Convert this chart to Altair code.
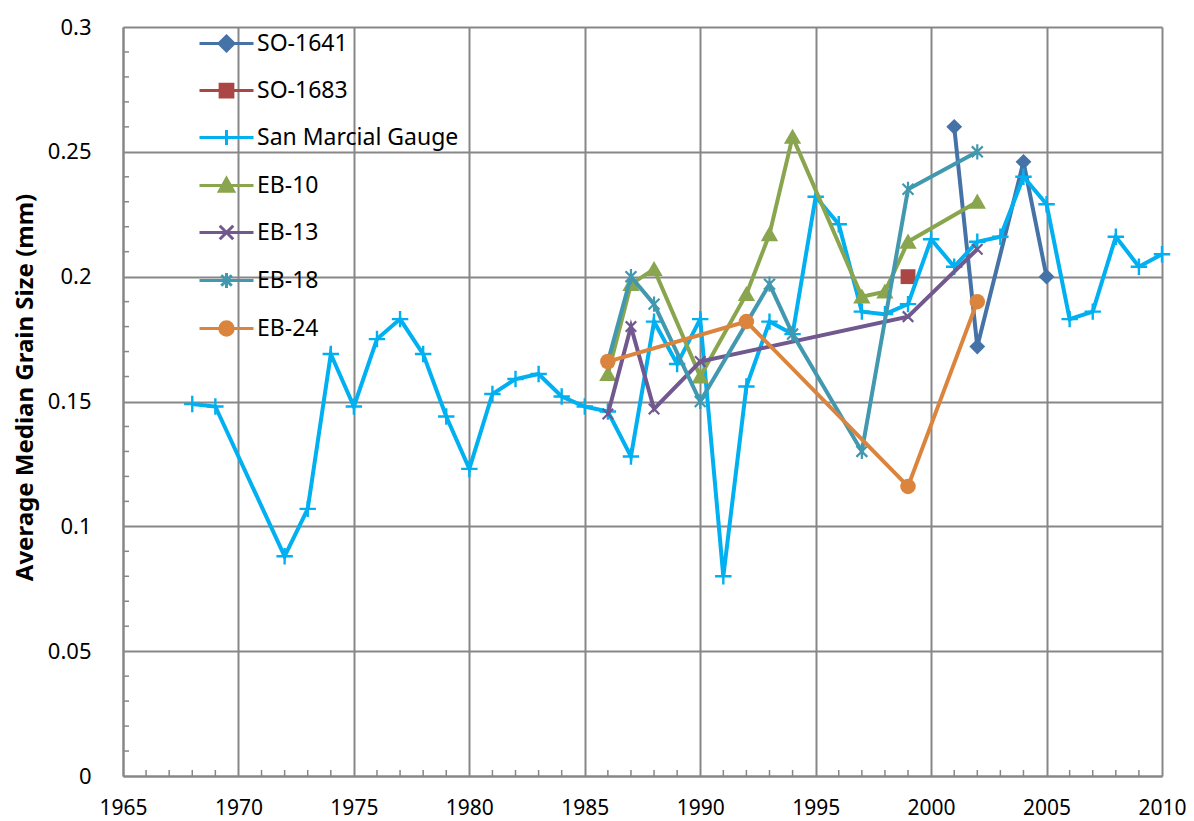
import altair as alt
import pandas as pd

# ---------------- data ----------------
series_names = ["SO-1641", "SO-1683", "San Marcial Gauge", "EB-10", "EB-13", "EB-18", "EB-24"]
series_colors = ["#4572A7", "#AA4643", "#00B0F0", "#89A54E", "#71588F", "#4198AF", "#DB843D"]

so1641_years = [2001, 2002, 2004, 2005]
so1641_vals = [0.260, 0.172, 0.246, 0.200]

so1683_years = [1999]
so1683_vals = [0.200]

san_years = [1968, 1969, 1972, 1973, 1974, 1975, 1976, 1977, 1978, 1979, 1980,
             1981, 1982, 1983, 1984, 1985, 1986, 1987, 1988, 1989, 1990, 1991,
             1992, 1993, 1994, 1995, 1996, 1997, 1998, 1999, 2000, 2001, 2002,
             2003, 2004, 2005, 2006, 2007, 2008, 2009, 2010]
san_vals = [0.149, 0.148, 0.088, 0.107, 0.169, 0.148, 0.175, 0.183, 0.169, 0.144, 0.123,
            0.153, 0.159, 0.161, 0.152, 0.148, 0.146, 0.128, 0.182, 0.165, 0.183, 0.080,
            0.156, 0.182, 0.177, 0.232, 0.221, 0.186, 0.185, 0.189, 0.215, 0.204, 0.214,
            0.216, 0.240, 0.229, 0.183, 0.186, 0.216, 0.204, 0.209]

eb10_years = [1986, 1987, 1988, 1990, 1992, 1993, 1994, 1997, 1998, 1999, 2002]
eb10_vals = [0.161, 0.197, 0.203, 0.160, 0.193, 0.217, 0.256, 0.192, 0.194, 0.214, 0.230]

eb13_years = [1986, 1987, 1988, 1990, 1999, 2002]
eb13_vals = [0.145, 0.180, 0.147, 0.166, 0.184, 0.211]

eb18_years = [1986, 1987, 1988, 1990, 1993, 1994, 1997, 1999, 2002]
eb18_vals = [0.166, 0.200, 0.189, 0.150, 0.197, 0.177, 0.130, 0.235, 0.250]

eb24_years = [1986, 1992, 1999, 2002]
eb24_vals = [0.166, 0.182, 0.116, 0.190]

x_major = [1965, 1970, 1975, 1980, 1985, 1990, 1995, 2000, 2005, 2010]
x_minor = [y for y in range(1966, 2010) if y % 5 != 0]
y_major = [0, 0.05, 0.1, 0.15, 0.2, 0.25, 0.3]
y_minor = [round(i * 0.01, 2) for i in range(1, 30) if i % 5 != 0]

# ---------------- styles ----------------
GRAY = "#878787"
FONT = "Noto Sans"

series_data = [
    (so1641_years, so1641_vals),
    (so1683_years, so1683_vals),
    (san_years, san_vals),
    (eb10_years, eb10_vals),
    (eb13_years, eb13_vals),
    (eb18_years, eb18_vals),
    (eb24_years, eb24_vals),
]

rows = []
for name, (yrs, vals) in zip(series_names, series_data):
    for yr, v in zip(yrs, vals):
        rows.append({"series": name, "year": yr, "size": v})
df = pd.DataFrame(rows)

plus_path = "M-1,0L1,0M0,-1L0,1"
x_path = "M-1,-1L1,1M-1,1L1,-1"
star_path = "M-0.72,-0.72L0.72,0.72M-0.72,0.72L0.72,-0.72M0,-1L0,1"
tri_path = "M0,-0.95L1,0.8L-1,0.8Z"

# (shape, size, filled, strokeWidth)
marker_styles = [
    ("diamond", 250, True, 0),
    ("square", 220, True, 0),
    (plus_path, 270, False, 2.4),
    (tri_path, 300, True, 0),
    (x_path, 110, False, 2.2),
    (star_path, 230, False, 2.2),
    ("circle", 240, True, 0),
]

line_seg = "M-3.6,0L3.6,0"
legend_paths = [
    line_seg + "M0,-1L1,0L0,1L-1,0Z",
    line_seg + "M-0.85,-0.85L0.85,-0.85L0.85,0.85L-0.85,0.85Z",
    line_seg + "M0,-1L0,1",
    line_seg + "M0,-0.95L0.95,0.75L-0.95,0.75Z",
    line_seg + "M-0.9,-0.9L0.9,0.9M-0.9,0.9L0.9,-0.9",
    line_seg + "M-0.7,-0.7L0.7,0.7M-0.7,0.7L0.7,-0.7M0,-1L0,1",
    line_seg + "M0.9,0A0.9,0.9,0,1,1,-0.9,0A0.9,0.9,0,1,1,0.9,0Z",
]

x_axis = alt.Axis(values=x_major, format="d", title=None, grid=True, ticks=False,
                  labelPadding=21, labelFontSize=21, labelFlush=False, labelOverlap=False)
y_axis = alt.Axis(values=y_major, format=".2~f", title="Average Median Grain Size (mm)",
                  grid=True, ticks=False, labelPadding=32, labelFlush=False,
                  labelOverlap=False, titleAngle=270, titleX=-98, titleY=360,
                  titleAlign="center", titleBaseline="middle")

x_enc = alt.X("year:Q", scale=alt.Scale(domain=[1965, 2010], nice=False, zero=False), axis=x_axis)
y_enc = alt.Y("size:Q", scale=alt.Scale(domain=[0, 0.3], nice=False, zero=False), axis=y_axis)

base = alt.Chart(df)
layers = []

# minor ticks (inside the plot area)
xt = alt.Chart(pd.DataFrame({"year": x_minor})).mark_rule(color=GRAY, strokeWidth=1.5).encode(
    x=x_enc, y=alt.value(749), y2=alt.value(743))
yt = alt.Chart(pd.DataFrame({"size": y_minor})).mark_rule(color=GRAY, strokeWidth=1.5).encode(
    y=y_enc, x=alt.value(0), x2=alt.value(6))
layers += [xt, yt]

for name, color, (shape, size, filled, sw) in zip(series_names, series_colors, marker_styles):
    sub = base.transform_filter(alt.datum.series == name)
    line = sub.mark_line(color=color, strokeWidth=4).encode(x=x_enc, y=y_enc, order="year:Q")
    if filled:
        pts = sub.mark_point(shape=shape, size=size, filled=True, color=color, opacity=1,
                             strokeWidth=0).encode(x=x_enc, y=y_enc)
    else:
        pts = sub.mark_point(shape=shape, size=size, filled=False, color=color, opacity=1,
                             strokeWidth=sw).encode(x=x_enc, y=y_enc)
    layers += [line, pts]

# legend layer (no marks drawn, only the legend)
legend = alt.Legend(title=None, orient="none", legendX=92, legendY=5, direction="vertical",
                    padding=0, symbolSize=225, symbolStrokeWidth=3, labelOffset=19,
                    rowPadding=21, labelFont=FONT, labelFontSize=23, labelColor="#000000",
                    labelLimit=400)
leg_scale = alt.Scale(domain=series_names, range=series_colors)
leg = base.transform_filter("false").mark_point(filled=True, opacity=1).encode(
    x=x_enc, y=y_enc,
    fill=alt.Fill("series:N", scale=leg_scale, legend=legend, sort=series_names),
    stroke=alt.Stroke("series:N", scale=leg_scale, legend=legend, sort=series_names),
    shape=alt.Shape("series:N", scale=alt.Scale(domain=series_names, range=legend_paths),
                    legend=legend, sort=series_names),
)
layers.append(leg)

chart = alt.layer(*layers).properties(
    width=1039, height=749,
    padding={"left": 115, "top": 19, "right": 24, "bottom": 50},
    autosize=alt.AutoSizeParams(type="none"),
).configure_view(stroke="transparent").configure_axis(
    gridColor=GRAY, gridWidth=2, gridOpacity=1, domainColor=GRAY, domainWidth=2,
    labelFont=FONT, labelFontSize=22, labelColor="#000000",
    titleFont=FONT, titleFontSize=24, titleFontWeight="bold", titleColor="#000000",
)

chart.save("out.html", embed_options={"renderer": "svg", "actions": False})
